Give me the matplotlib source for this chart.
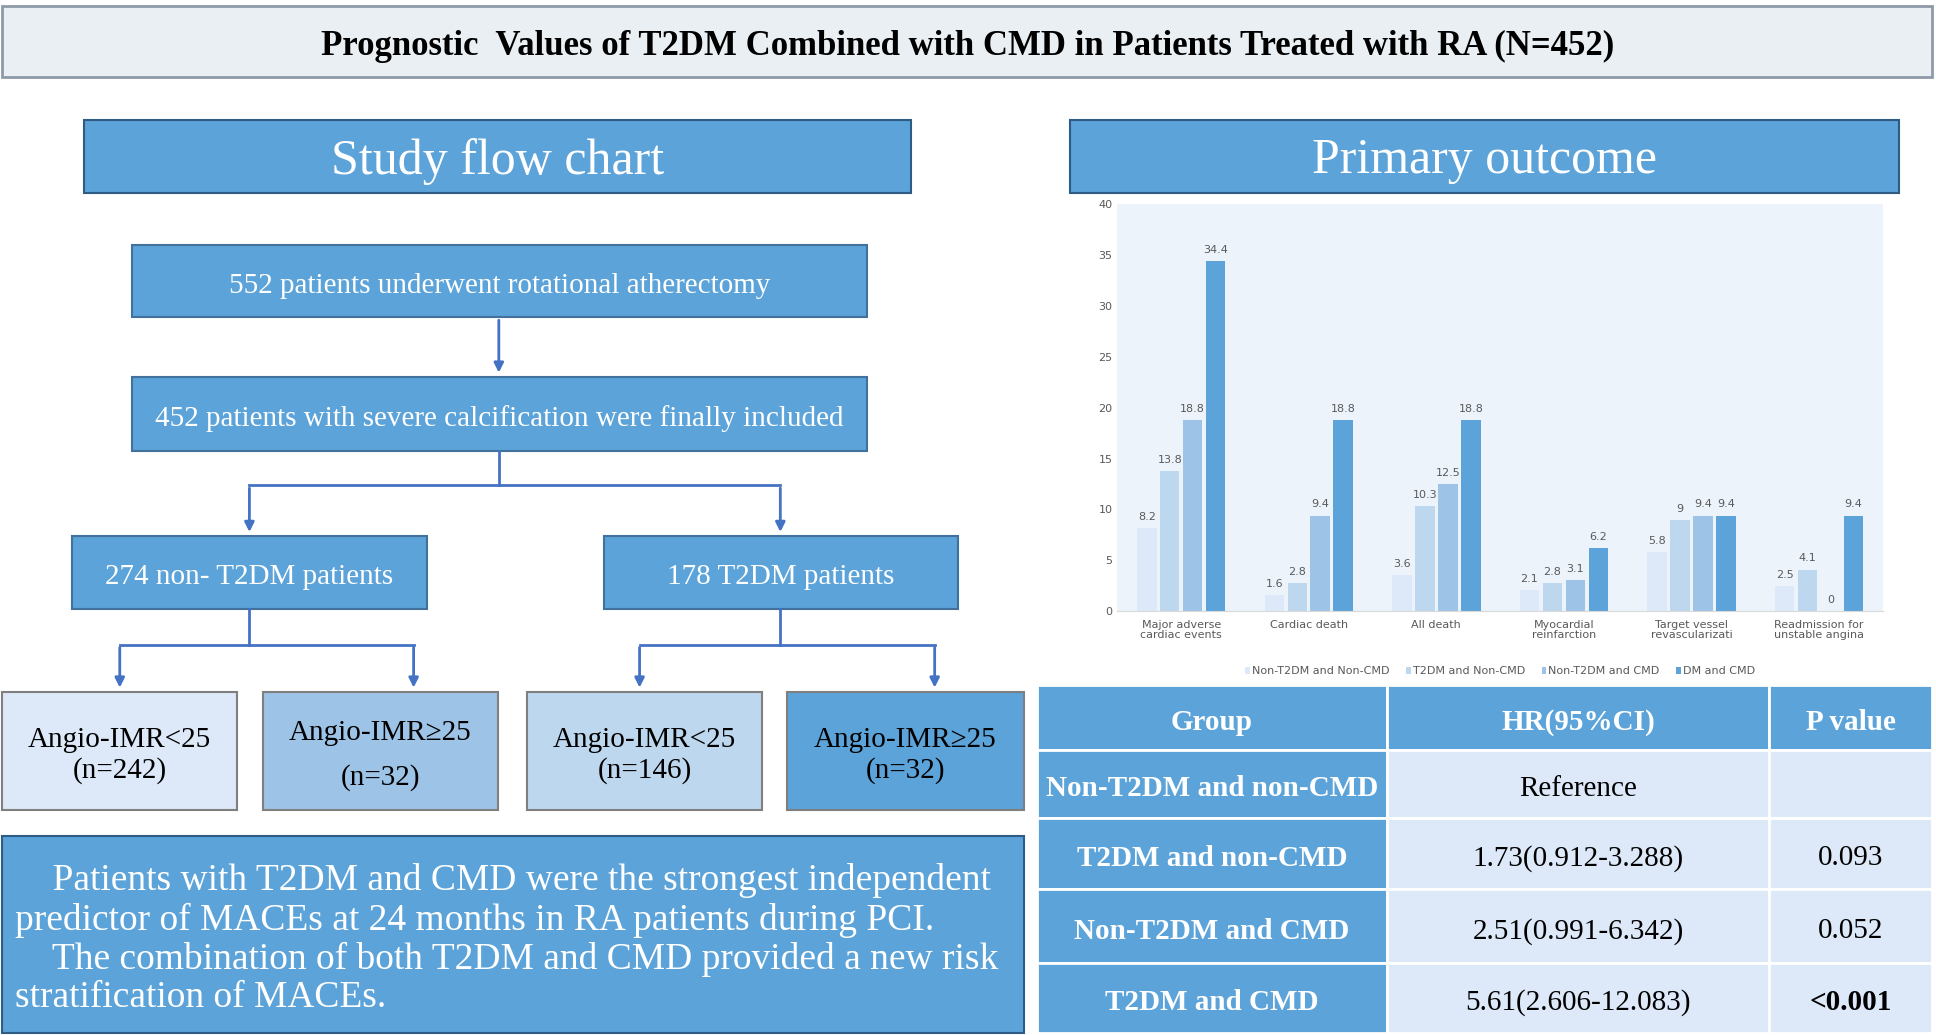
import matplotlib.pyplot as plt
import numpy as np
from matplotlib.patches import Rectangle

# ---- data ----
CATEGORIES = ["Major adverse\ncardiac events", "Cardiac death", "All death",
              "Myocardial\nreinfarction", "Target vessel\nrevascularizati",
              "Readmission for\nunstable angina"]
GROUPS = ["Non-T2DM and Non-CMD", "T2DM and Non-CMD", "Non-T2DM and CMD", "DM and CMD"]
RATES = [
    [8.2, 1.6, 3.6, 2.1, 5.8, 2.5],
    [13.8, 2.8, 10.3, 2.8, 9, 4.1],
    [18.8, 9.4, 12.5, 3.1, 9.4, 0],
    [34.4, 18.8, 18.8, 6.2, 9.4, 9.4],
]
TABLE_HEAD = ["Group", "HR(95%CI)", "P value"]
TABLE_GROUPS = ["Non-T2DM and non-CMD", "T2DM and non-CMD", "Non-T2DM and CMD", "T2DM and CMD"]
TABLE_HR = ["Reference", "1.73(0.912-3.288)", "2.51(0.991-6.342)", "5.61(2.606-12.083)"]
TABLE_P = ["", "0.093", "0.052", "<0.001"]

BLUE = "#5ba3d9"
SHADES = ["#dde9f9", "#bdd7ee", "#9dc3e6", "#5ba3d9"]
SERIF = "Liberation Serif"

W, H = 1568, 838
fig = plt.figure(figsize=(19.36, 10.35), dpi=100)
bg = fig.add_axes([0, 0, 1, 1])
bg.set_xlim(0, W)
bg.set_ylim(H, 0)
bg.axis("off")


def box(x0, y0, x1, y1, fc, ec="#41719c", lw=1.5, text=None, color="white",
        size=21, weight="normal", ha="center", tx=None, ls=1.2):
    bg.add_patch(Rectangle((x0, y0), x1 - x0, y1 - y0, fc=fc, ec=ec, lw=lw))
    if text is not None:
        xx = (x0 + x1) / 2 if tx is None else tx
        bg.text(xx, (y0 + y1) / 2 + 4, text, ha=ha, va="center", color=color,
                fontsize=size, fontweight=weight, family=SERIF, linespacing=ls)


def arrow(x, y0, y1):
    bg.annotate("", xy=(x, y1), xytext=(x, y0),
                arrowprops=dict(arrowstyle="-|>", color="#4472c4", lw=2, mutation_scale=14))


def line(xs, ys):
    bg.plot(xs, ys, color="#4472c4", lw=2)


# title
box(2, 5, 1565, 62, "#e9eff2", ec="#8e9aa8", lw=2,
    text="Prognostic  Values of T2DM Combined with CMD in Patients Treated with RA (N=452)",
    color="black", size=25, weight="bold")
# section headers
box(68, 97, 738, 156, BLUE, ec="#2f5c85", text="Study flow chart", size=36)
box(867, 97, 1538, 156, BLUE, ec="#2f5c85", text="Primary outcome", size=36)

# flow chart
box(107, 198, 702, 257, BLUE, text="552 patients underwent rotational atherectomy")
arrow(404, 257, 304)
box(107, 305, 702, 365, BLUE, text="452 patients with severe calcification were finally included")
line([404, 404], [365, 393])
line([202, 632], [393, 393])
arrow(202, 393, 433)
arrow(632, 393, 433)
box(58, 434, 346, 493, BLUE, text="274 non- T2DM patients")
box(489, 434, 776, 493, BLUE, text="178 T2DM patients")
for cx, l, r in [(202, 97, 335), (632, 518, 757)]:
    line([cx, cx], [493, 522])
    line([l, r], [522, 522])
    arrow(l, 522, 559)
    arrow(r, 522, 559)
leaf_x = [(2, 192), (213, 403), (427, 617), (637, 829)]
leaf_fc = ["#dde9f9", "#9dc3e6", "#bdd7ee", BLUE]
leaf_txt = ["Angio-IMR<25\n(n=242)", "Angio-IMR≥25\n\n(n=32)", "Angio-IMR<25\n(n=146)", "Angio-IMR≥25\n(n=32)"]
leaf_ls = [1.2, 0.8, 1.2, 1.2]
for (l, r), fc, t, s in zip(leaf_x, leaf_fc, leaf_txt, leaf_ls):
    box(l, 560, r, 656, fc, ec="#7f7f7f", text=t, color="black", size=21, ls=s)

# conclusion
box(2, 677, 829, 836, BLUE, ec="#2f5c85",
    text="    Patients with T2DM and CMD were the strongest independent\n"
         "predictor of MACEs at 24 months in RA patients during PCI.\n"
         "    The combination of both T2DM and CMD provided a new risk\n"
         "stratification of MACEs.",
    size=27, ha="left", tx=12, ls=1.15)

# bar chart
ax = fig.add_axes([905 / W, 1 - 495 / H, 620 / W, 330 / H])
ax.set_facecolor("#edf3fb")
x = np.arange(len(CATEGORIES))
bw = 0.18
for i, (g, vals) in enumerate(zip(GROUPS, RATES)):
    pos = x + (i - 1.5) * bw
    ax.bar(pos, vals, width=bw * 0.85, color=SHADES[i], label=g)
    for p, v in zip(pos, vals):
        ax.text(p, v + 0.6, f"{v:g}", ha="center", va="bottom", fontsize=8, color="#595959")
ax.set_ylim(0, 40)
ax.set_yticks(range(0, 41, 5))
ax.set_xlim(-0.5, len(CATEGORIES) - 0.5)
ax.set_xticks(x)
ax.set_xticklabels(CATEGORIES, fontsize=8, color="#595959", linespacing=1.0)
ax.tick_params(axis="y", labelsize=8, labelcolor="#595959", length=0)
ax.tick_params(axis="x", length=0, pad=6)
for s in ax.spines.values():
    s.set_visible(False)
ax.spines["bottom"].set_visible(True)
ax.spines["bottom"].set_color("#d9d9d9")
ax.legend(loc="upper center", bbox_to_anchor=(0.5, -0.11), ncol=4, frameon=False,
          fontsize=8, handlelength=0.4, handleheight=0.6, handletextpad=0.2,
          columnspacing=1.5, labelcolor="#595959")

# table
cols = [840, 1123, 1433, 1565]
rows = [555, 607, 662, 720, 780, 836]
for j, h in enumerate(TABLE_HEAD):
    box(cols[j], rows[0], cols[j + 1], rows[1], BLUE, ec="white", lw=2,
        text=h, weight="bold")
for i in range(4):
    y0, y1 = rows[i + 1], rows[i + 2]
    box(cols[0], y0, cols[1], y1, BLUE, ec="white", lw=2, text=TABLE_GROUPS[i],
        weight="bold")
    box(cols[1], y0, cols[2], y1, "#dde9f9", ec="white", lw=2, text=TABLE_HR[i],
        color="black")
    box(cols[2], y0, cols[3], y1, "#dde9f9", ec="white", lw=2, text=TABLE_P[i],
        color="black", weight="bold" if i == 3 else "normal")

fig.savefig("out.png", dpi=100)
